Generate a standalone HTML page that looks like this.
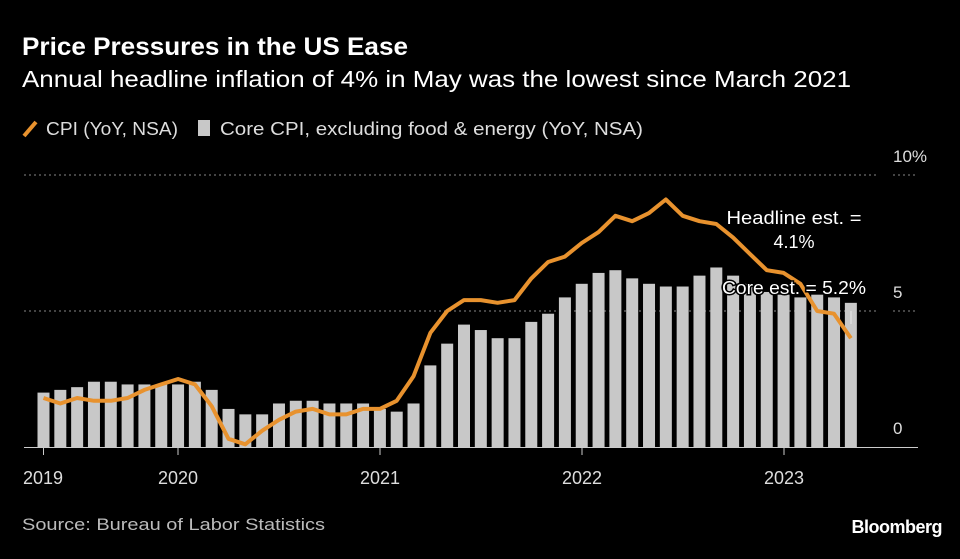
<!DOCTYPE html>
<html><head><meta charset="utf-8"><style>
body{margin:0;background:#000;width:960px;height:554px;overflow:hidden;font-family:"Liberation Sans",sans-serif;color:#fff}
</style></head><body>
<svg width="960" height="554" xmlns="http://www.w3.org/2000/svg" font-family="Liberation Sans, sans-serif">
<rect width="960" height="554" fill="#000"/>
<text x="22" y="55" font-size="25" font-weight="bold" fill="#fff" textLength="386" lengthAdjust="spacingAndGlyphs">Price Pressures in the US Ease</text>
<text x="22" y="87" font-size="23" fill="#fff" textLength="829" lengthAdjust="spacingAndGlyphs">Annual headline inflation of 4% in May was the lowest since March 2021</text>
<line x1="24" y1="136" x2="36" y2="122" stroke="#e8922e" stroke-width="4"/>
<text x="46" y="135" font-size="18" fill="#ddd" textLength="132" lengthAdjust="spacingAndGlyphs">CPI (YoY, NSA)</text>
<rect x="198" y="120" width="12" height="16" fill="#c8c8c8"/>
<text x="220" y="135" font-size="18" fill="#ddd" textLength="423" lengthAdjust="spacingAndGlyphs">Core CPI, excluding food &amp; energy (YoY, NSA)</text>
<g stroke="#888" stroke-dasharray="2,3" stroke-width="1">
<line x1="24" y1="175" x2="878" y2="175"/><line x1="893" y1="175" x2="918" y2="175"/>
<line x1="24" y1="311" x2="878" y2="311"/><line x1="893" y1="311" x2="918" y2="311"/>
</g>
<text x="893" y="162" font-size="17" fill="#ddd">10%</text>
<text x="893" y="298" font-size="17" fill="#ddd">5</text>
<text x="893" y="434" font-size="17" fill="#ddd">0</text>
<g id="bars" fill="#c8c8c8"></g>
<line x1="24" y1="447.5" x2="918" y2="447.5" stroke="#ccc" stroke-width="1"/>
<g stroke="#ccc" stroke-width="1">
<line x1="43.5" y1="447" x2="43.5" y2="455"/><line x1="178" y1="447" x2="178" y2="455"/><line x1="380" y1="447" x2="380" y2="455"/><line x1="582" y1="447" x2="582" y2="455"/><line x1="784" y1="447" x2="784" y2="455"/>
</g>
<g font-size="18" fill="#ddd" text-anchor="middle">
<text x="43" y="484">2019</text><text x="178" y="484">2020</text><text x="380" y="484">2021</text><text x="582" y="484">2022</text><text x="784" y="484">2023</text>
</g>
<polyline id="cpi" fill="none" stroke="#e8922e" stroke-width="4" stroke-linejoin="round"/>
<line x1="851" y1="311" x2="851" y2="324" stroke="#ddd" stroke-width="1.5"/>
<text x="794" y="224" font-size="18" fill="#fff" text-anchor="middle" textLength="135" lengthAdjust="spacingAndGlyphs">Headline est. =</text>
<text x="794" y="248" font-size="18" fill="#fff" text-anchor="middle">4.1%</text>
<text x="794" y="294" font-size="18" fill="#fff" text-anchor="middle" textLength="144" lengthAdjust="spacingAndGlyphs" stroke="#000" stroke-width="3" paint-order="stroke">Core est. = 5.2%</text>
<text x="22" y="530" font-size="17" fill="#bbb" textLength="303" lengthAdjust="spacingAndGlyphs">Source: Bureau of Labor Statistics</text>
<text x="942" y="533" font-size="18" font-weight="bold" fill="#fff" text-anchor="end" letter-spacing="-0.5">Bloomberg</text>
</svg>
<script>
var core=[2.0,2.1,2.2,2.4,2.4,2.3,2.3,2.3,2.3,2.4,2.1,1.4,1.2,1.2,1.6,1.7,1.7,1.6,1.6,1.6,1.4,1.3,1.6,3.0,3.8,4.5,4.3,4.0,4.0,4.6,4.9,5.5,6.0,6.4,6.5,6.2,6.0,5.9,5.9,6.3,6.6,6.3,6.0,5.7,5.6,5.5,5.6,5.5,5.3];
var cpi=[1.8,1.6,1.8,1.7,1.7,1.8,2.1,2.3,2.5,2.3,1.5,0.3,0.1,0.6,1.0,1.3,1.4,1.2,1.2,1.4,1.4,1.7,2.6,4.2,5.0,5.4,5.4,5.3,5.4,6.2,6.8,7.0,7.5,7.9,8.5,8.3,8.6,9.1,8.5,8.3,8.2,7.7,7.1,6.5,6.4,6.0,5.0,4.9,4.0];
var g=document.getElementById('bars'),ns='http://www.w3.org/2000/svg',pts=[];
for(var i=0;i<49;i++){var x=43.5+i*16.82;var r=document.createElementNS(ns,'rect');var h=core[i]*27.2;
r.setAttribute('x',x-6);r.setAttribute('y',447-h);r.setAttribute('width',12);r.setAttribute('height',h);g.appendChild(r);
pts.push(x.toFixed(1)+','+(447-cpi[i]*27.2).toFixed(1));}
document.getElementById('cpi').setAttribute('points',pts.join(' '));
</script>
</body></html>
